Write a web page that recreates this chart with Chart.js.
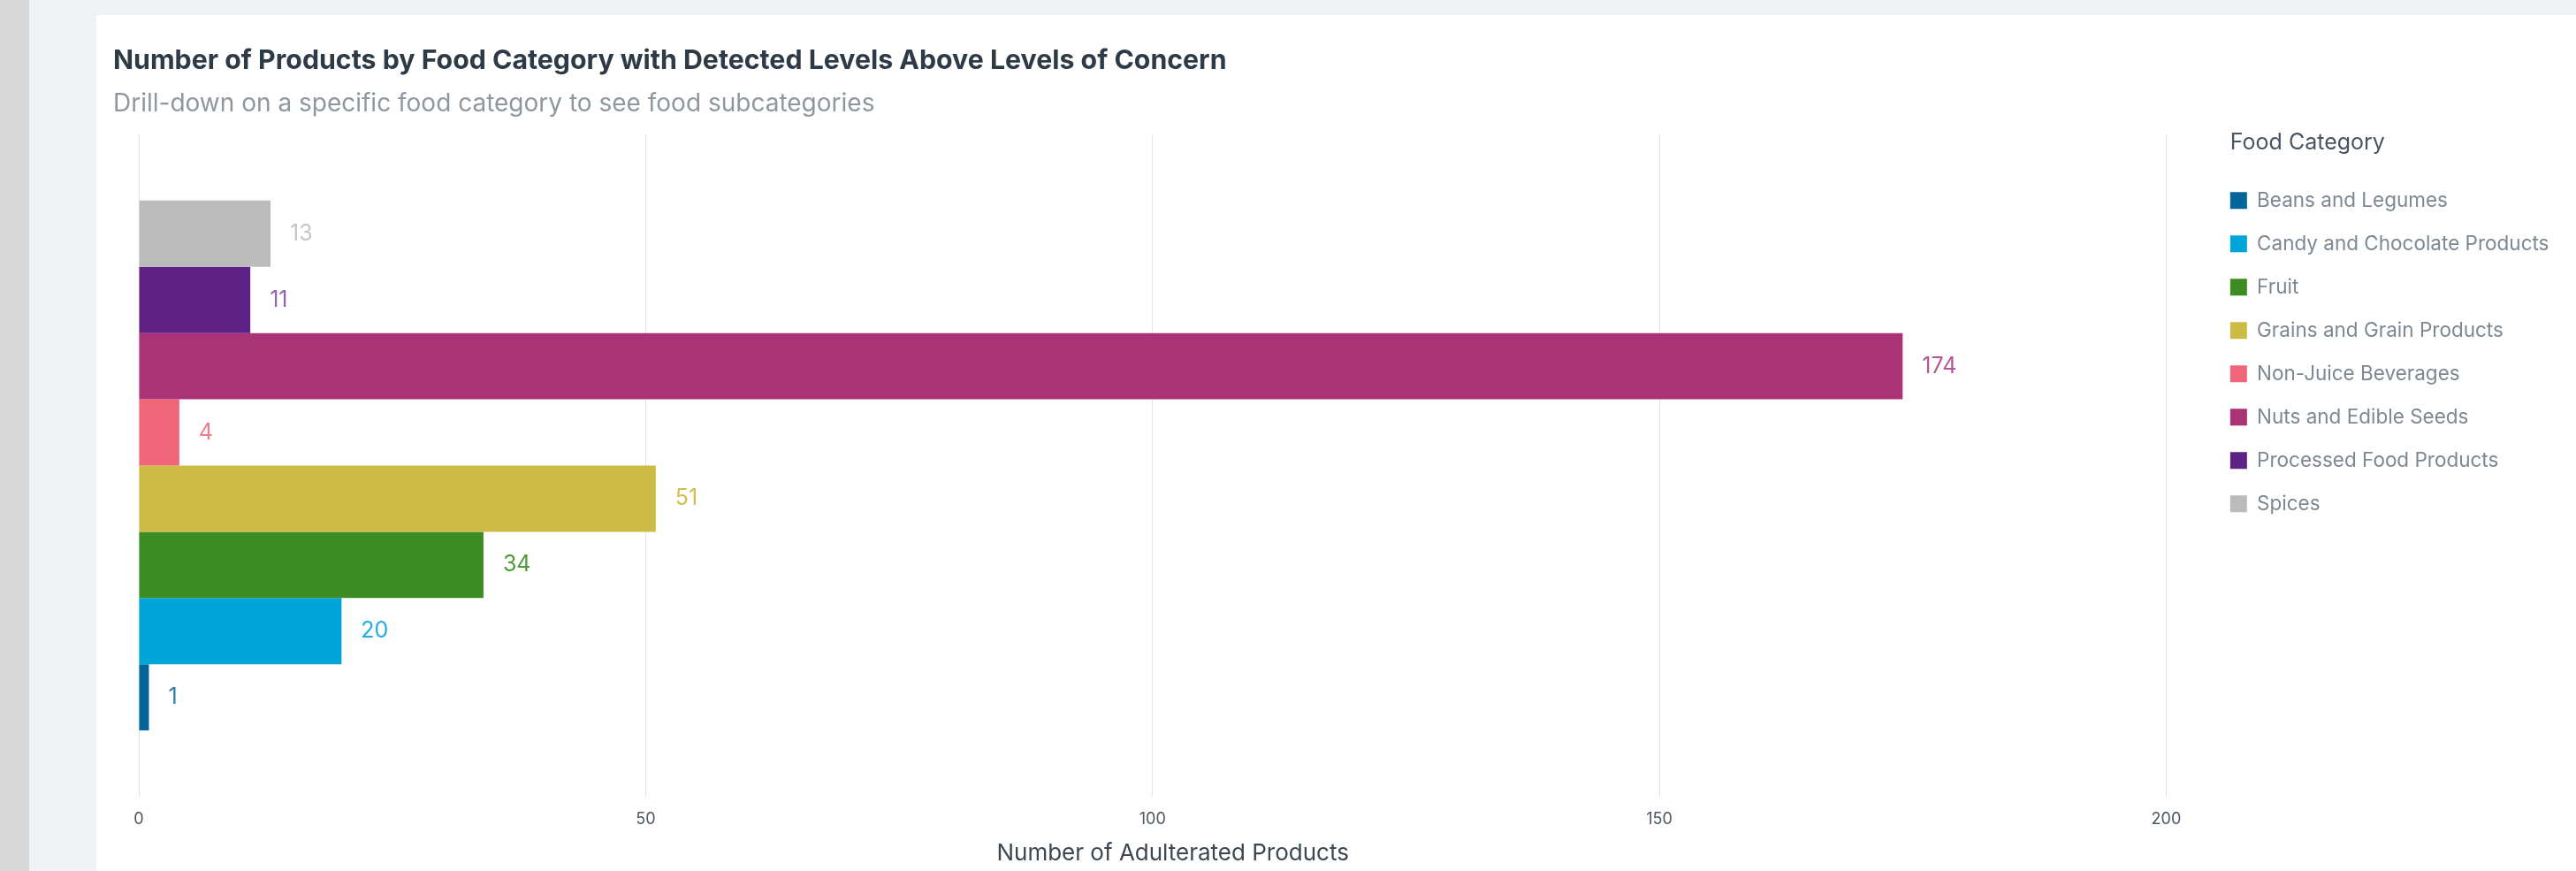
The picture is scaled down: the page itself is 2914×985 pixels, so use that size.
<!DOCTYPE html>
<html>
<head>
<meta charset="utf-8">
<script src="https://cdn.jsdelivr.net/npm/chart.js@4"></script>
<style>
  html, body { margin: 0; padding: 0; }
  body { width: 2914px; height: 985px; background: #eef2f5; position: relative; overflow: hidden; }
  #strip { position: absolute; left: 0; top: 0; width: 33px; height: 985px; background: #d7d7d7; }
  #card { position: absolute; left: 109px; top: 17px; width: 2805px; height: 968px; background: #ffffff; }
</style>
</head>
<body>
<div id="strip"></div>
<div id="card"><canvas id="myChart"></canvas></div>
<script>
// data, top bar first (legend is shown reversed)
const categories = ["Spices", "Processed Food Products", "Nuts and Edible Seeds", "Non-Juice Beverages",
    "Grains and Grain Products", "Fruit", "Candy and Chocolate Products", "Beans and Legumes"];
const counts = [13, 11, 174, 4, 51, 34, 20, 1];
const barColors = ["#bbbbbb", "#5e2286", "#aa3377", "#ee6677", "#ccbb44", "#3d8b23", "#00a4d8", "#03669b"];
const labelColors = ["#c6c6c6", "#9266b0", "#b9558f", "#f07b8a", "#cfbf4f", "#4f9a36", "#21aedd", "#2f7fb0"];
const xTicks = [0, 50, 100, 150, 200];
const legendTitle = "Food Category";

const FONT = "Inter, 'Noto Sans', sans-serif";
const LEGEND_PAD = 26.5;
const LEGEND_TITLE_TOP = 133;

let datasets = [];
for (let n = 0; n < categories.length; n++) {
    datasets.push({
        label: categories[n],
        data: [counts[n]],
        backgroundColor: barColors[n],
        borderWidth: 0,
        categoryPercentage: 0.8,
        barPercentage: 1.0
    });
}

// value labels to the right of each bar
const valueLabels = {
    id: "valueLabels",
    afterDatasetsDraw(chart) {
        const ctx = chart.ctx;
        ctx.save();
        ctx.font = "25px " + FONT;
        ctx.textBaseline = "middle";
        ctx.textAlign = "left";
        chart.data.datasets.forEach((ds, i) => {
            const meta = chart.getDatasetMeta(i);
            const bar = meta.data[0];
            ctx.fillStyle = labelColors[i];
            ctx.fillText(String(ds.data[0]), bar.x + 22, bar.y);
        });
        ctx.restore();
    }
};

// legend title lined up with the legend boxes
const legendHeading = {
    id: "legendHeading",
    afterDraw(chart) {
        const lg = chart.legend;
        const ctx = chart.ctx;
        ctx.save();
        ctx.font = "25px " + FONT;
        ctx.fillStyle = "#4a5561";
        ctx.textBaseline = "middle";
        ctx.textAlign = "left";
        ctx.fillText(legendTitle, lg.left + LEGEND_PAD, lg.top + LEGEND_TITLE_TOP + 11);
        ctx.restore();
    }
};

const config = {
    type: "bar",
    data: {
        labels: [""],
        datasets: datasets
    },
    plugins: [valueLabels, legendHeading],
    options: {
        indexAxis: "y",
        responsive: false,
        animation: false,
        layout: { padding: { left: 19, right: 20.5, top: 0, bottom: 0 } },
        plugins: {
            title: {
                display: true,
                text: "Number of Products by Food Category with Detected Levels Above Levels of Concern",
                align: "start",
                color: "#2e3b47",
                font: { family: FONT, size: 30.3, weight: "bold" },
                padding: { top: 34, bottom: 13 }
            },
            subtitle: {
                display: true,
                text: "Drill-down on a specific food category to see food subcategories",
                align: "start",
                color: "#8f979e",
                font: { family: FONT, size: 28 },
                padding: { top: 0, bottom: 18 }
            },
            legend: {
                position: "right",
                align: "start",
                reverse: true,
                title: {
                    // space kept for the heading drawn by legendHeading
                    display: true,
                    text: "",
                    font: { family: FONT, size: 25 },
                    padding: { top: LEGEND_TITLE_TOP, bottom: 9 }
                },
                labels: {
                    boxWidth: 19,
                    boxHeight: 19,
                    padding: LEGEND_PAD,
                    color: "#7d8892",
                    font: { family: FONT, size: 22.5 }
                }
            },
            tooltip: { enabled: false }
        },
        scales: {
            x: {
                min: 0,
                max: 204,
                grid: { color: "#e4e4e4", lineWidth: 1, drawTicks: false },
                border: { display: false },
                afterBuildTicks: (scale) => {
                    scale.ticks = xTicks.map(v => ({ value: v }));
                },
                afterFit: (scale) => { scale.height = 84; },
                ticks: {
                    color: "#4d5862",
                    padding: 15,
                    font: { family: FONT, size: 18 }
                },
                title: {
                    display: true,
                    text: "Number of Adulterated Products",
                    color: "#3c4752",
                    font: { family: FONT, size: 26 },
                    padding: { top: 11.6, bottom: 4.4 }
                }
            },
            y: {
                grid: { display: false },
                border: { display: false },
                ticks: { display: false },
                afterFit: (scale) => { scale.width = 29; }
            }
        }
    }
};

const canvas = document.getElementById("myChart");
canvas.width = 2805;
canvas.height = 968;
canvas.style.width = "2805px";
canvas.style.height = "968px";
new Chart(canvas, config);
</script>
</body>
</html>
